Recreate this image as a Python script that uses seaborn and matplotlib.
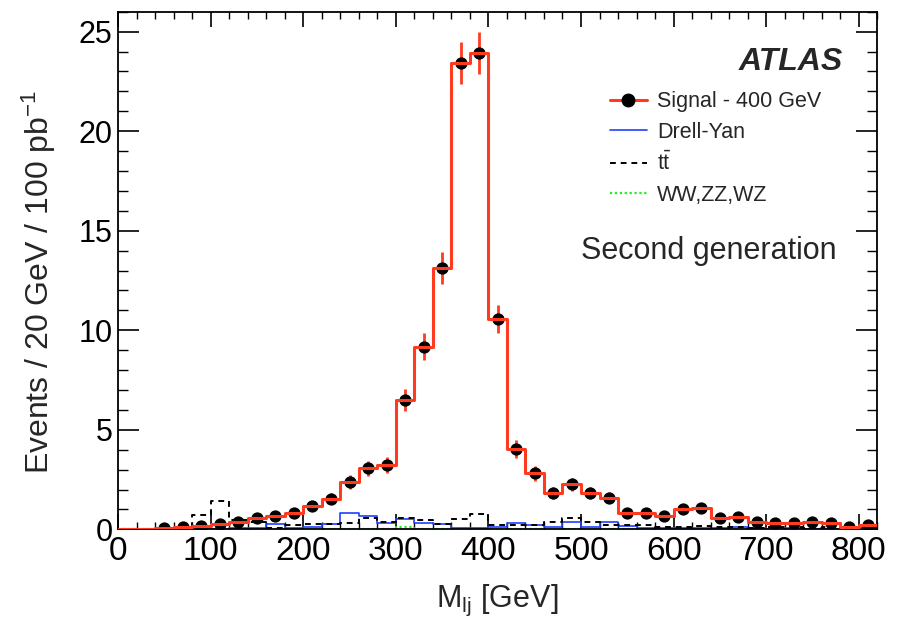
import numpy as np
import pandas as pd
import matplotlib
matplotlib.use("Agg")
import matplotlib.pyplot as plt
from matplotlib.lines import Line2D
import seaborn as sns

# ====== Histogram contents (20 GeV bins, 0-820 GeV) ======
bin_edges = list(range(0, 840, 20))
bin_centers = [e + 10 for e in bin_edges[:-1]]

signal = [0, 0, 0.08, 0.13, 0.17, 0.27, 0.39, 0.55, 0.66, 0.80,
          1.15, 1.55, 2.38, 3.07, 3.23, 6.50, 9.17, 13.13, 23.43, 23.94,
          10.57, 4.03, 2.82, 1.85, 2.27, 1.85, 1.60, 0.80, 0.80, 0.65,
          1.03, 1.07, 0.56, 0.60, 0.38, 0.33, 0.33, 0.38, 0.33, 0.12,
          0.21]
signal_err = [0, 0, 0.06, 0.08, 0.09, 0.11, 0.14, 0.16, 0.18, 0.20,
              0.23, 0.27, 0.34, 0.38, 0.39, 0.56, 0.67, 0.80, 1.05, 1.06,
              0.71, 0.44, 0.37, 0.30, 0.33, 0.30, 0.28, 0.20, 0.20, 0.18,
              0.22, 0.23, 0.16, 0.17, 0.13, 0.13, 0.13, 0.13, 0.13, 0.08,
              0.10]
drell_yan = [0, 0, 0, 0.01, 0.02, 0.03, 0.05, 0.05, 0.28, 0.06,
             0.12, 0.28, 0.80, 0.65, 0.30, 0.50, 0.30, 0.25, 0.08, 0.05,
             0.13, 0.34, 0.22, 0.13, 0.38, 0.10, 0.38, 0.15, 0.05, 0.08,
             0.05, 0.06, 0.05, 0.10, 0.05, 0.04, 0.05, 0.03, 0.04, 0.03,
             0.15]
ttbar = [0, 0, 0, 0.05, 0.70, 1.42, 0.45, 0.35, 0.05, 0.20,
         0.25, 0.28, 0.30, 0.57, 0.38, 0.58, 0.45, 0.26, 0.50, 0.78,
         0.24, 0.20, 0.24, 0.35, 0.55, 0.36, 0.24, 0.22, 0.20, 0.10,
         0.12, 0.15, 0.10, 0.12, 0.08, 0.10, 0.12, 0.08, 0.10, 0.05,
         0.08]
diboson = [0, 0, 0, 0.01, 0.01, 0.01, 0.02, 0.02, 0.02, 0.02,
           0.03, 0.03, 0.03, 0.03, 0.03, 0.12, 0.03, 0.03, 0.02, 0.02,
           0.02, 0.02, 0.02, 0.02, 0.02, 0.02, 0.02, 0.02, 0.01, 0.01,
           0.01, 0.01, 0.01, 0.01, 0.01, 0.01, 0.01, 0.01, 0.01, 0.01,
           0.01]

df = pd.DataFrame({"mass": bin_centers, "signal": signal, "err": signal_err,
                   "dy": drell_yan, "tt": ttbar, "vv": diboson})

RED = "#ff3b1f"
BLUE = "#2040ff"
GREEN = "#22ee22"

sns.set_theme(style="ticks")
plt.rcParams["font.family"] = ["Liberation Sans", "DejaVu Sans"]
plt.rcParams["mathtext.fontset"] = "custom"
plt.rcParams["mathtext.rm"] = "Liberation Sans"
plt.rcParams["mathtext.it"] = "Liberation Sans:italic"

fig = plt.figure(figsize=(8.97, 6.17), dpi=100)
ax = fig.add_axes([0.1316, 0.142, 0.8464, 0.839])

# ====== Backgrounds ======
sns.histplot(data=df, x="mass", weights="vv", bins=bin_edges, element="step",
             fill=False, color=GREEN, linewidth=1.6, linestyle=(0, (1, 1.2)), ax=ax)
sns.histplot(data=df, x="mass", weights="dy", bins=bin_edges, element="step",
             fill=False, color=BLUE, linewidth=1.2, ax=ax)
sns.histplot(data=df, x="mass", weights="tt", bins=bin_edges, element="step",
             fill=False, color="black", linewidth=1.4, linestyle=(0, (3, 2.5)), ax=ax)

# ====== Signal ======
pts = df[df["signal"] > 0]
ax.errorbar(pts["mass"], pts["signal"], yerr=pts["err"], fmt="none",
            ecolor=RED, elinewidth=2.0, capsize=0, zorder=4)
sns.scatterplot(data=pts, x="mass", y="signal", color="black", s=78,
                edgecolor="black", linewidth=0, zorder=5, ax=ax)
sns.histplot(data=df, x="mass", weights="signal", bins=bin_edges, element="step",
             fill=False, color=RED, linewidth=2.2, ax=ax, zorder=6)

# ====== Axes cosmetics (ROOT-like) ======
ax.set_xlim(0, 820)
ax.set_ylim(0, 26.0)
ax.set_xticks(np.arange(0, 801, 100))
ax.set_xticks(np.arange(0, 821, 20), minor=True)
ax.set_yticks(np.arange(0, 26, 5))
ax.set_yticks(np.arange(0, 26.1, 1), minor=True)
ax.tick_params(axis="both", which="both", direction="in", top=True, right=True,
               colors="black")
ax.tick_params(axis="x", which="major", length=10.5, width=1.2, pad=5, labelsize=24)
ax.tick_params(axis="x", which="minor", length=5, width=1.0)
ax.tick_params(axis="y", which="major", length=15, width=1.2, pad=4, labelsize=22)
ax.tick_params(axis="y", which="minor", length=7.5, width=1.0)
for s in ax.spines.values():
    s.set_linewidth(1.3)
    s.set_color("black")

ax.set_xlabel(r"M$_{\mathregular{lj}}$ [GeV]", fontsize=22)
ax.xaxis.set_label_coords(0.5, -0.103)
ax.set_ylabel(r"Events / 20 GeV / 100 pb$^{\mathregular{-1}}$", fontsize=23)
ax.yaxis.set_label_coords(-0.079, 0.478)

ax.text(0.955, 0.903, "ATLAS", transform=ax.transAxes, ha="right", va="center",
        fontsize=23, fontweight="bold", fontstyle="italic")
ax.text(0.947, 0.537, "Second generation", transform=ax.transAxes, ha="right",
        va="center", fontsize=22)

handles = [
    Line2D([], [], color=RED, lw=2.2, marker="o", mfc="black", mec="black", ms=9),
    Line2D([], [], color=BLUE, lw=1.2),
    Line2D([], [], color="black", lw=1.4, linestyle=(0, (3, 2.5))),
    Line2D([], [], color=GREEN, lw=1.6, linestyle=(0, (1, 1.2))),
]
labels = ["Signal - 400 GeV", "Drell-Yan", r"$\mathrm{t\bar{t}}$", "WW,ZZ,WZ"]
ax.legend(handles, labels, loc="upper left", bbox_to_anchor=(0.636, 0.863),
          frameon=False, fontsize=15.5, handlelength=1.75, handletextpad=0.45,
          labelspacing=0.44, borderaxespad=0)

fig.savefig("out.png", dpi=100)
